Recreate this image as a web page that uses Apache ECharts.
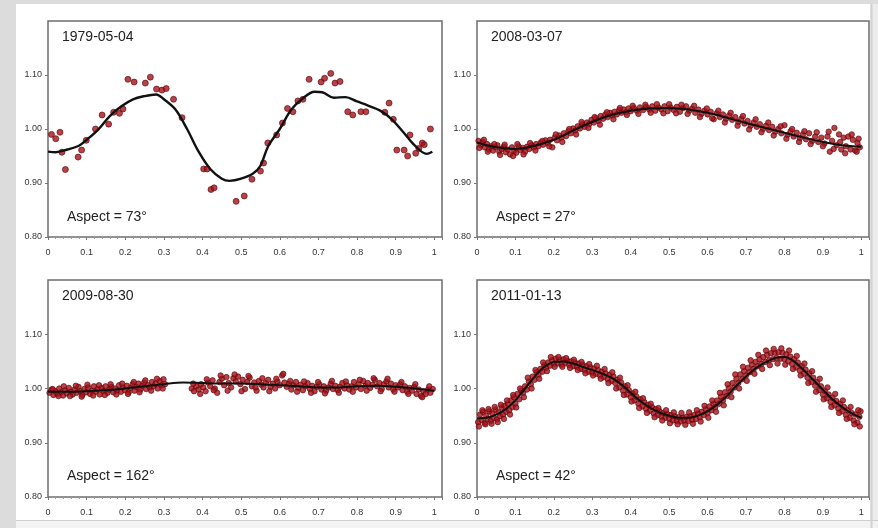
<!DOCTYPE html>
<html>
<head>
<meta charset="utf-8">
<script src="https://cdn.jsdelivr.net/npm/echarts@6/dist/echarts.min.js"></script>
<style>
  html, body { margin: 0; padding: 0; background: #dcdcdc; }
  #chart { width: 878px; height: 528px; }
</style>
</head>
<body>
<div id="chart"></div>
<script>
// panel titles and aspect notes
const dates = ['1979-05-04', '2008-03-07', '2009-08-30', '2011-01-13'];
const aspects = ['Aspect = 73°', 'Aspect = 27°', 'Aspect = 162°', 'Aspect = 42°'];
const yTicks = [0.8, 0.9, 1.0, 1.1];

// 1979-05-04 : measured points and fitted curve
const obs1 = [[0.009,0.990],[0.020,0.982],[0.031,0.994],[0.036,0.957],[0.045,0.925],[0.078,0.948],[0.087,0.961],
  [0.099,0.979],[0.123,1.000],[0.140,1.026],[0.157,1.009],[0.170,1.031],[0.185,1.029],[0.194,1.037],[0.207,1.092],
  [0.223,1.087],[0.252,1.085],[0.265,1.096],[0.281,1.074],[0.295,1.072],[0.306,1.075],[0.325,1.055],[0.347,1.021],
  [0.403,0.926],[0.412,0.926],[0.422,0.888],[0.430,0.891],[0.487,0.866],[0.508,0.876],[0.528,0.907],[0.550,0.922],
  [0.558,0.937],[0.569,0.974],[0.592,0.989],[0.607,1.011],[0.620,1.038],[0.634,1.032],[0.647,1.052],[0.660,1.055],
  [0.676,1.092],[0.707,1.087],[0.716,1.094],[0.732,1.103],[0.743,1.085],[0.756,1.088],[0.776,1.032],[0.789,1.026],
  [0.810,1.032],[0.823,1.032],[0.872,1.031],[0.883,1.048],[0.894,1.018],[0.903,0.961],[0.922,0.961],[0.931,0.950],
  [0.937,0.989],[0.952,0.955],[0.960,0.964],[0.969,0.974],[0.974,0.971],[0.990,1.000]];
const fit1 = [[0,0.958],[0.02,0.957],[0.05,0.962],[0.08,0.969],[0.10,0.980],[0.13,0.999],[0.16,1.024],[0.19,1.042],
  [0.22,1.055],[0.25,1.061],[0.28,1.064],[0.30,1.055],[0.33,1.036],[0.36,1.000],[0.39,0.958],[0.42,0.926],
  [0.45,0.908],[0.47,0.904],[0.50,0.908],[0.53,0.917],[0.55,0.932],[0.57,0.968],[0.60,1.000],[0.63,1.036],
  [0.66,1.057],[0.69,1.069],[0.71,1.068],[0.74,1.058],[0.77,1.059],[0.80,1.051],[0.83,1.043],[0.86,1.034],
  [0.89,1.018],[0.92,0.994],[0.95,0.969],[0.98,0.954],[0.995,0.958]];

// 2008-03-07
const obs2 = [[0.004,0.978],[0.010,0.970],[0.015,0.976],[0.020,0.966],[0.026,0.972],[0.031,0.962],[0.037,0.968],
  [0.042,0.960],[0.048,0.966],[0.053,0.970],[0.058,0.958],[0.064,0.963],[0.070,0.967],[0.075,0.957],[0.080,0.962],
  [0.086,0.953],[0.091,0.966],[0.097,0.960],[0.102,0.956],[0.108,0.968],[0.113,0.961],[0.119,0.965],[0.125,0.958],
  [0.130,0.967],[0.136,0.963],[0.142,0.970],[0.148,0.966],[0.154,0.972],[0.160,0.968],[0.166,0.975],[0.172,0.971],
  [0.178,0.979],[0.184,0.974],[0.190,0.980],[0.196,0.966],[0.202,0.984],[0.208,0.979],[0.214,0.988],[0.220,0.984],
  [0.226,0.992],[0.232,0.987],[0.238,0.996],[0.244,0.992],[0.250,1.001],[0.256,0.997],[0.262,1.005],[0.268,1.001],
  [0.274,1.009],[0.280,1.004],[0.286,1.012],[0.292,1.009],[0.298,1.017],[0.304,1.012],[0.310,1.020],[0.316,1.015],
  [0.322,1.024],[0.328,1.019],[0.334,1.027],[0.340,1.022],[0.346,1.030],[0.352,1.025],[0.358,1.032],[0.364,1.027],
  [0.370,1.035],[0.376,1.030],[0.382,1.036],[0.388,1.031],[0.394,1.038],[0.400,1.033],[0.408,1.039],[0.416,1.034],
  [0.424,1.040],[0.432,1.035],[0.440,1.041],[0.448,1.036],[0.456,1.042],[0.464,1.034],[0.472,1.040],[0.480,1.036],
  [0.488,1.042],[0.496,1.033],[0.504,1.040],[0.512,1.035],[0.520,1.041],[0.528,1.032],[0.536,1.039],[0.544,1.042],
  [0.552,1.034],[0.560,1.038],[0.568,1.030],[0.576,1.036],[0.584,1.028],[0.592,1.034],[0.600,1.027],[0.608,1.032],
  [0.616,1.018],[0.624,1.029],[0.632,1.022],[0.640,1.027],[0.648,1.019],[0.656,1.025],[0.664,1.017],[0.672,1.022],
  [0.680,1.013],[0.688,1.019],[0.696,1.010],[0.704,1.015],[0.712,1.006],[0.720,1.012],[0.728,1.004],[0.736,1.009],
  [0.744,1.000],[0.752,1.006],[0.760,0.998],[0.768,1.004],[0.776,0.995],[0.784,1.000],[0.792,0.992],[0.800,1.007],
  [0.808,0.989],[0.816,0.996],[0.824,0.986],[0.832,0.993],[0.840,0.983],[0.848,0.990],[0.856,0.981],[0.864,0.992],
  [0.872,0.978],[0.880,0.986],[0.888,0.976],[0.896,0.984],[0.904,0.973],[0.912,0.986],[0.918,0.958],[0.924,0.978],
  [0.930,1.002],[0.936,0.970],[0.942,0.990],[0.948,0.962],[0.954,0.984],[0.960,0.968],[0.966,0.986],[0.972,0.962],
  [0.978,0.980],[0.984,0.960],[0.990,0.974],[0.996,0.966],
  [0.006,0.965],[0.018,0.980],[0.028,0.958],[0.045,0.972],[0.060,0.952],[0.072,0.971],[0.094,0.950],[0.105,0.972],
  [0.121,0.953],[0.138,0.974],[0.152,0.960],[0.170,0.978],[0.188,0.968],[0.205,0.990],[0.222,0.976],[0.240,1.000],
  [0.258,0.990],[0.272,1.013],[0.290,1.002],[0.306,1.022],[0.320,1.008],[0.338,1.031],[0.355,1.018],[0.372,1.039],
  [0.390,1.026],[0.405,1.043],[0.420,1.028],[0.438,1.045],[0.452,1.030],[0.468,1.046],[0.485,1.029],[0.500,1.046],
  [0.518,1.029],[0.532,1.045],[0.548,1.028],[0.565,1.043],[0.580,1.022],[0.598,1.038],[0.612,1.020],[0.628,1.034],
  [0.645,1.012],[0.660,1.030],[0.678,1.006],[0.692,1.024],[0.708,0.999],[0.725,1.018],[0.740,0.994],[0.758,1.012],
  [0.772,0.988],[0.790,1.005],[0.805,0.982],[0.820,1.000],[0.838,0.976],[0.852,0.996],[0.868,0.972],[0.884,0.994],
  [0.900,0.968],[0.915,0.995],[0.928,0.963],[0.945,0.976],[0.958,0.955],[0.975,0.990],[0.988,0.958],[0.993,0.982]];
const fit2 = [[0,0.975],[0.05,0.966],[0.10,0.963],[0.15,0.969],[0.20,0.980],[0.25,0.997],[0.30,1.013],[0.35,1.026],
  [0.40,1.034],[0.45,1.038],[0.50,1.039],[0.55,1.036],[0.60,1.030],[0.65,1.021],[0.70,1.011],[0.75,1.002],
  [0.80,0.993],[0.85,0.984],[0.90,0.976],[0.95,0.970],[1.0,0.967]];

// 2009-08-30
const obs3 = [[0.004,0.992],[0.009,0.998],[0.014,0.988],[0.019,0.995],[0.024,0.990],[0.029,1.000],[0.034,0.993],
  [0.039,0.987],[0.044,0.997],[0.049,0.991],[0.054,1.001],[0.059,0.994],[0.064,0.989],[0.069,0.998],[0.074,0.992],
  [0.079,1.003],[0.084,0.995],[0.089,0.988],[0.094,0.999],[0.099,0.993],[0.104,1.002],[0.109,0.990],[0.114,0.996],
  [0.119,1.004],[0.124,0.994],[0.129,0.999],[0.134,0.989],[0.139,1.001],[0.144,0.995],[0.149,1.004],[0.154,0.992],
  [0.159,0.998],[0.164,1.003],[0.169,0.993],[0.174,1.000],[0.179,0.996],[0.184,1.006],[0.189,0.994],[0.194,1.002],
  [0.199,0.997],[0.204,1.005],[0.209,0.993],[0.214,1.001],[0.219,1.008],[0.224,0.996],[0.229,1.003],[0.234,1.009],
  [0.239,0.998],[0.244,1.005],[0.249,1.011],[0.254,0.999],[0.259,1.006],[0.264,1.002],[0.269,1.012],[0.274,1.004],
  [0.279,1.009],[0.284,1.000],[0.289,1.014],[0.294,1.006],[0.299,1.017],[0.303,1.008],
  [0.372,1.000],[0.378,0.995],[0.384,1.004],[0.390,0.998],[0.396,1.008],[0.402,1.002],[0.408,0.995],[0.414,1.011],
  [0.420,1.004],[0.426,1.015],[0.432,1.000],[0.438,0.992],[0.444,1.012],[0.450,1.018],[0.456,1.006],[0.462,1.021],
  [0.468,1.010],[0.474,1.002],[0.480,1.019],[0.486,1.013],[0.492,1.022],[0.498,1.008],[0.504,1.016],[0.510,0.999],
  [0.516,1.012],[0.522,1.020],[0.528,1.004],[0.534,1.011],[0.540,0.996],[0.546,1.014],[0.552,1.007],[0.558,1.002],
  [0.564,1.010],[0.570,1.016],[0.576,1.003],[0.582,1.009],[0.588,1.000],[0.594,1.013],[0.600,1.006],[0.606,1.024],
  [0.612,1.011],[0.618,1.003],[0.624,1.009],[0.630,0.998],[0.636,1.006],[0.642,1.012],[0.648,1.001],[0.654,1.007],
  [0.660,0.997],[0.666,1.004],[0.672,1.010],[0.678,0.999],[0.684,1.005],[0.690,0.995],[0.696,1.003],[0.702,1.008],
  [0.708,0.998],[0.714,1.004],[0.720,0.996],[0.726,1.002],[0.732,1.009],[0.738,0.999],[0.744,1.005],[0.750,0.997],
  [0.756,1.003],[0.762,1.010],[0.768,1.000],[0.774,1.006],[0.780,0.998],[0.786,1.004],[0.792,1.012],[0.798,1.002],
  [0.804,1.008],[0.810,0.999],[0.816,1.014],[0.822,1.005],[0.828,1.010],[0.834,1.001],[0.840,1.007],[0.846,1.016],
  [0.852,1.004],[0.858,1.010],[0.864,0.999],[0.870,1.008],[0.876,1.013],[0.882,1.002],[0.888,1.009],[0.894,0.998],
  [0.900,1.006],[0.906,1.002],[0.912,1.008],[0.918,0.997],[0.924,1.004],[0.930,0.994],[0.936,1.001],[0.942,0.996],
  [0.948,1.003],[0.954,0.990],[0.960,0.998],[0.966,0.986],[0.972,0.995],[0.978,0.990],[0.984,0.998],[0.990,0.992],
  [0.996,0.999],
  [0.012,0.999],[0.027,0.986],[0.041,1.004],[0.057,0.986],[0.072,1.005],[0.087,0.985],[0.102,1.007],[0.117,0.987],
  [0.132,1.006],[0.147,0.988],[0.162,1.008],[0.177,0.989],[0.192,1.009],[0.207,0.990],[0.222,1.012],[0.237,0.993],
  [0.252,1.015],[0.267,0.996],[0.282,1.018],[0.297,1.000],[0.376,1.009],[0.394,0.990],[0.411,1.017],[0.429,0.997],
  [0.447,1.024],[0.465,0.996],[0.483,1.026],[0.501,0.995],[0.519,1.023],[0.537,1.002],[0.555,1.019],[0.573,0.995],
  [0.591,1.018],[0.609,1.027],[0.627,1.014],[0.645,0.994],[0.663,1.013],[0.681,0.992],[0.699,1.012],[0.717,0.991],
  [0.735,1.014],[0.753,0.992],[0.771,1.013],[0.789,0.994],[0.807,1.016],[0.825,0.996],[0.843,1.019],[0.861,0.995],
  [0.879,1.018],[0.897,0.994],[0.915,1.012],[0.933,0.990],[0.951,1.008],[0.969,0.984],[0.987,1.004]];
const fit3 = [[0,0.994],[0.05,0.994],[0.10,0.995],[0.15,0.997],[0.20,1.000],[0.25,1.004],[0.30,1.008],[0.35,1.011],
  [0.40,1.010],[0.45,1.009],[0.50,1.009],[0.55,1.008],[0.60,1.006],[0.65,1.004],[0.70,1.002],[0.75,1.002],
  [0.80,1.004],[0.85,1.005],[0.90,1.003],[0.95,1.000],[1.0,0.996]];

// 2011-01-13
const obs4 = [[0.003,0.938],[0.008,0.952],[0.012,0.942],[0.016,0.957],[0.020,0.936],[0.024,0.950],[0.028,0.944],
  [0.032,0.958],[0.036,0.940],[0.040,0.954],[0.044,0.946],[0.048,0.961],[0.052,0.943],[0.056,0.956],[0.060,0.949],
  [0.064,0.965],[0.068,0.952],[0.072,0.968],[0.076,0.957],[0.080,0.972],[0.084,0.960],[0.088,0.978],[0.092,0.966],
  [0.096,0.984],[0.100,0.972],[0.105,0.990],[0.110,0.980],[0.115,0.996],[0.120,0.992],[0.125,1.004],[0.130,0.998],
  [0.135,1.013],[0.140,1.008],[0.145,1.022],[0.150,1.016],[0.155,1.030],[0.160,1.025],[0.165,1.036],[0.170,1.031],
  [0.175,1.043],[0.180,1.038],[0.185,1.048],[0.190,1.042],[0.195,1.052],[0.200,1.045],[0.205,1.055],[0.210,1.046],
  [0.215,1.053],[0.220,1.044],[0.225,1.054],[0.230,1.047],[0.235,1.051],[0.240,1.043],[0.245,1.050],[0.250,1.041],
  [0.255,1.048],[0.260,1.040],[0.265,1.046],[0.270,1.036],[0.275,1.044],[0.280,1.034],[0.285,1.041],[0.290,1.031],
  [0.295,1.039],[0.300,1.029],[0.305,1.037],[0.310,1.027],[0.315,1.034],[0.320,1.024],[0.325,1.031],[0.330,1.021],
  [0.335,1.028],[0.340,1.017],[0.345,1.025],[0.350,1.014],[0.355,1.022],[0.360,1.010],[0.365,1.016],[0.370,1.002],
  [0.375,1.011],[0.380,0.996],[0.385,1.004],[0.390,0.989],[0.395,0.997],[0.400,0.984],[0.405,0.991],[0.410,0.978],
  [0.415,0.985],[0.420,0.972],[0.425,0.980],[0.430,0.967],[0.435,0.975],[0.440,0.962],[0.445,0.970],[0.450,0.959],
  [0.455,0.966],[0.460,0.954],[0.465,0.962],[0.470,0.951],[0.475,0.958],[0.480,0.948],[0.485,0.955],[0.490,0.946],
  [0.495,0.953],[0.500,0.944],[0.505,0.951],[0.510,0.941],[0.515,0.949],[0.520,0.940],[0.525,0.947],[0.530,0.939],
  [0.535,0.946],[0.540,0.941],[0.545,0.948],[0.550,0.940],[0.555,0.949],[0.560,0.942],[0.565,0.951],[0.570,0.944],
  [0.575,0.954],[0.580,0.947],[0.585,0.957],[0.590,0.951],[0.595,0.962],[0.600,0.955],[0.605,0.967],[0.610,0.960],
  [0.615,0.972],[0.620,0.966],[0.625,0.978],[0.630,0.972],[0.635,0.985],[0.640,0.978],[0.645,0.993],[0.650,0.986],
  [0.655,1.001],[0.660,0.994],[0.665,1.010],[0.670,1.002],[0.675,1.018],[0.680,1.010],[0.685,1.026],[0.690,1.017],
  [0.695,1.032],[0.700,1.024],[0.705,1.038],[0.710,1.030],[0.715,1.044],[0.720,1.036],[0.725,1.049],[0.730,1.041],
  [0.735,1.054],[0.740,1.045],[0.745,1.058],[0.750,1.049],[0.755,1.062],[0.760,1.052],[0.765,1.065],[0.770,1.054],
  [0.775,1.066],[0.780,1.056],[0.785,1.067],[0.790,1.055],[0.795,1.066],[0.800,1.054],[0.805,1.063],[0.810,1.050],
  [0.815,1.059],[0.820,1.045],[0.825,1.054],[0.830,1.039],[0.835,1.048],[0.840,1.033],[0.845,1.041],[0.850,1.027],
  [0.855,1.035],[0.860,1.020],[0.865,1.028],[0.870,1.012],[0.875,1.020],[0.880,1.005],[0.885,1.012],[0.890,0.997],
  [0.895,1.004],[0.900,0.989],[0.905,0.996],[0.910,0.982],[0.915,0.989],[0.920,0.975],[0.925,0.983],[0.930,0.969],
  [0.935,0.977],[0.940,0.963],[0.945,0.972],[0.950,0.958],[0.955,0.966],[0.960,0.951],[0.965,0.960],[0.970,0.946],
  [0.975,0.955],[0.980,0.941],[0.985,0.952],[0.990,0.937],[0.995,0.948],[0.998,0.958],
  [0.005,0.930],[0.014,0.960],[0.022,0.934],[0.030,0.962],[0.038,0.935],[0.046,0.966],[0.054,0.938],[0.062,0.970],
  [0.070,0.944],[0.078,0.978],[0.086,0.952],[0.094,0.988],[0.102,0.965],[0.112,1.000],[0.122,0.984],[0.132,1.020],
  [0.142,1.000],[0.152,1.034],[0.162,1.018],[0.172,1.048],[0.182,1.032],[0.192,1.058],[0.202,1.040],[0.212,1.058],
  [0.222,1.040],[0.232,1.056],[0.242,1.038],[0.252,1.053],[0.262,1.034],[0.272,1.049],[0.282,1.028],[0.292,1.045],
  [0.302,1.024],[0.312,1.042],[0.322,1.018],[0.332,1.036],[0.342,1.010],[0.352,1.030],[0.362,1.000],[0.372,1.020],
  [0.382,0.988],[0.392,1.006],[0.402,0.976],[0.412,0.994],[0.422,0.964],[0.432,0.982],[0.442,0.955],[0.452,0.972],
  [0.462,0.947],[0.472,0.964],[0.482,0.941],[0.492,0.960],[0.502,0.936],[0.512,0.956],[0.522,0.934],[0.532,0.955],
  [0.542,0.933],[0.552,0.956],[0.562,0.935],[0.572,0.960],[0.582,0.939],[0.592,0.968],[0.602,0.946],[0.612,0.978],
  [0.622,0.957],[0.632,0.992],[0.642,0.969],[0.652,1.008],[0.662,0.984],[0.672,1.026],[0.682,1.000],[0.692,1.040],
  [0.702,1.014],[0.712,1.052],[0.722,1.027],[0.732,1.062],[0.742,1.036],[0.752,1.070],[0.762,1.043],[0.772,1.073],
  [0.782,1.046],[0.792,1.074],[0.802,1.044],[0.812,1.070],[0.822,1.036],[0.832,1.060],[0.842,1.024],[0.852,1.046],
  [0.862,1.010],[0.872,1.032],[0.882,0.994],[0.892,1.018],[0.902,0.980],[0.912,1.002],[0.922,0.966],[0.932,0.990],
  [0.942,0.955],[0.952,0.978],[0.962,0.944],[0.972,0.966],[0.982,0.934],[0.992,0.960],[0.996,0.930]];
const fit4 = [[0,0.945],[0.025,0.946],[0.05,0.952],[0.075,0.962],[0.10,0.978],[0.125,1.000],[0.15,1.022],
  [0.175,1.040],[0.20,1.049],[0.225,1.050],[0.25,1.046],[0.275,1.040],[0.30,1.034],[0.325,1.028],[0.35,1.020],
  [0.375,1.008],[0.40,0.992],[0.425,0.977],[0.45,0.965],[0.475,0.956],[0.50,0.950],[0.525,0.946],[0.55,0.946],
  [0.575,0.950],[0.60,0.958],[0.625,0.970],[0.65,0.986],[0.675,1.005],[0.70,1.022],[0.725,1.037],[0.75,1.048],
  [0.775,1.056],[0.80,1.058],[0.825,1.050],[0.85,1.034],[0.875,1.016],[0.90,0.998],[0.925,0.980],[0.95,0.966],
  [0.975,0.954],[1.0,0.946]];

const observed = [obs1, obs2, obs3, obs4];
const fitted = [fit1, fit2, fit3, fit4];

// plot boxes (px)
const boxes = [
  { left: 48, top: 21, width: 394, height: 216 },
  { left: 477, top: 21, width: 392, height: 216 },
  { left: 48, top: 280, width: 394, height: 217 },
  { left: 477, top: 280, width: 392, height: 217 }
];

const font = '"Liberation Sans", Arial, sans-serif';
const chart = echarts.init(document.getElementById('chart'));

const grids = [], xAxes = [], yAxes = [], series = [], texts = [];

boxes.forEach((b, i) => {
  grids.push(Object.assign({ show: true, borderColor: '#6e6e6e', borderWidth: 1.5, backgroundColor: '#fff' }, b));
  xAxes.push({
    type: 'value', gridIndex: i, min: 0, max: 1.02, interval: 0.1,
    splitLine: { show: false },
    axisLine: { show: false },
    axisTick: { show: true, length: 3, lineStyle: { color: '#777' } },
    minorTick: { show: true, splitNumber: 5, length: 2, lineStyle: { color: '#999' } },
    axisLabel: {
      fontSize: 9, color: '#333', fontFamily: font, margin: 11,
      formatter: v => v > 1.001 ? '' : String(Math.round(v * 10) / 10)
    }
  });
  yAxes.push({
    type: 'value', gridIndex: i, min: 0.8, max: 1.2, interval: 0.1,
    splitLine: { show: false },
    axisLine: { show: false },
    axisTick: { show: true, length: 3, customValues: yTicks, lineStyle: { color: '#777' } },
    axisLabel: {
      fontSize: 9, color: '#333', fontFamily: font, margin: 6,
      customValues: yTicks,
      formatter: v => v.toFixed(2)
    }
  });
  series.push({
    type: 'scatter', xAxisIndex: i, yAxisIndex: i, data: observed[i],
    symbolSize: i === 0 ? 6 : 5.5,
    itemStyle: { color: '#a8121a', borderColor: '#5c0508', borderWidth: 0.8 },
    z: 2
  });
  series.push({
    type: 'line', xAxisIndex: i, yAxisIndex: i, data: fitted[i],
    smooth: 0.35, showSymbol: false,
    lineStyle: { color: '#111', width: i === 0 ? 2.4 : 2 },
    z: 3
  });
  texts.push({
    type: 'text', left: b.left + 14, top: b.top + 9,
    style: { text: dates[i], fontSize: 14, fill: '#222', fontFamily: font }, z: 10
  });
  texts.push({
    type: 'text', left: b.left + 19, top: b.top + 189,
    style: { text: aspects[i], fontSize: 14, fill: '#222', fontFamily: font }, z: 10
  });
});

const frame = [
  { type: 'rect', shape: { x: 16, y: 4, width: 854, height: 516 }, style: { fill: '#fff' }, z: -10 },
  { type: 'rect', shape: { x: 870, y: 4, width: 8, height: 524 }, style: { fill: '#ececec' }, z: -10 },
  { type: 'rect', shape: { x: 16, y: 520, width: 862, height: 8 }, style: { fill: '#f3f3f3' }, z: -10 },
  { type: 'line', shape: { x1: 16, y1: 520.5, x2: 878, y2: 520.5 }, style: { stroke: '#cfcfcf', lineWidth: 1 }, z: -9 },
  { type: 'line', shape: { x1: 871.5, y1: 4, x2: 871.5, y2: 528 }, style: { stroke: '#d2d2d2', lineWidth: 2 }, z: -9 }
];

chart.setOption({
  backgroundColor: '#dcdcdc',
  animation: false,
  grid: grids,
  xAxis: xAxes,
  yAxis: yAxes,
  series: series,
  graphic: frame.concat(texts)
});
</script>
</body>
</html>
